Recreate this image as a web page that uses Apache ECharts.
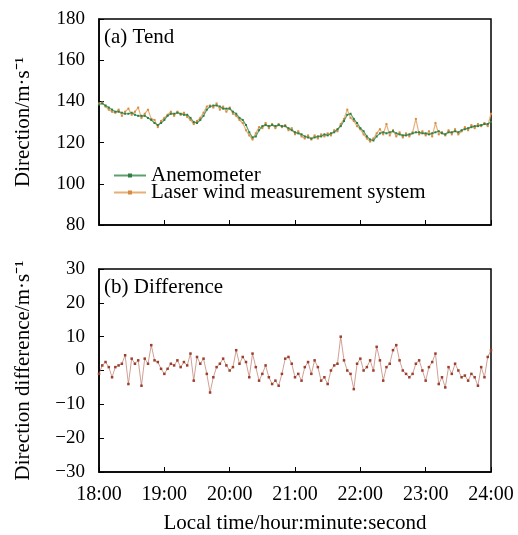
<!DOCTYPE html>
<html>
<head>
<meta charset="utf-8">
<script src="https://cdn.jsdelivr.net/npm/echarts@6/dist/echarts.min.js"></script>
<style>html,body{margin:0;padding:0;background:#fff}#c{width:518px;height:535px}</style>
</head>
<body>
<div id="c"></div>
<script>
// minutes after 18:00, step 3 minutes
const stepMinutes = 3;
const xTickLabels = ["18:00","19:00","20:00","21:00","22:00","23:00","24:00"];

const anemometer = [
 138.5,139,138,137,136,135,135,134.5,134,134,134.5,133.5,133,133,133,132,131,129.5,128.5,129.5,
 131,133,134,134,134.5,134,133.5,133.5,132,130,129.5,131,133,136,137.5,138,138,137.5,136.5,136.5,
 136.5,135,134,132,131,128.5,125,122.5,123,126,128,128.5,128,128.5,128,128.5,128,128,127,126,
 125,124.5,124,123,122.5,122,122.5,123,123,124,123.5,124.5,125,126.5,128,130.5,133.5,134,131.5,129.5,
 127,125.5,123,121.5,121,123,124.5,125,124.5,125,125.5,124.5,124,123.5,123.5,124,124.5,125,125,124.5,
 124.5,124,124.5,125,125.5,124.5,124,125,125,125.5,125,126,126.5,127,127.5,128,128,128.5,129,129,
 130
];

const laser = [
 139,139.5,137.5,136,135,134.5,136,133,135,136.5,133.5,135,137,132,134,136,131.5,131,127.5,130.5,
 132,133.5,135,133,135,133.5,134.5,132.5,131,129,130.5,132,134.5,137.5,138,137,139,136,137.5,135,
 137,134,133,131,129.5,126,123.5,121.5,124.5,127.5,127,129.5,127,129,127,129,127.5,128.5,126,127,
 124,125.5,123,122,123.5,121.5,123.5,122,124,123,124.5,123.5,126,125.5,129,131.5,136,132,130.5,128,
 126.5,124,122,120.5,122,124.5,126.5,124,129,123.5,126,123,125,122.5,124.5,123,125,131.5,124,125.5,
 123.5,125.5,123,129.5,124,125,123.5,126,124,126.5,124,125.5,127.5,126,128.5,127,129,128,129.5,128,
 134
];

const difference = [
 -1,1.5,2.5,1,-2,1,1.5,2,4.5,-4,3.5,2,3,-4.5,3.5,2,7.5,3,2.5,0.5,
 -1,0.5,2,1.5,3,1,2.5,1.5,5,-3,4,2,3.5,-1,-6.5,-2,1,2,3.5,1.5,
 0,1,6,2,4,2.5,-2,5,1,-3,-1,1.5,-2,-4,-3,-4.5,-1,3.5,4,2,
 -2,-1,-3,1,2.5,-1,3,1,-3,-2,-4,0,1.5,2,10,3,0,-1,-5.5,2,
 3.5,0,1,3,0,7,3,-3,1,2,6,7.5,3,0,-1,-2,-1,2,3,0,
 -3,1,2.5,5,-4,-2,-5,1,-1,2,0,-2,-1.5,-3,-1,-2,-4.5,1,-2,4,
 6
];

const toPairs = arr => arr.map((v, i) => [i * stepMinutes, v]);

const FONT = "Liberation Serif";
const fmtNum = v => (v < 0 ? "\u2212" + Math.abs(v) : String(v));

const chart = echarts.init(document.getElementById('c'), null, {renderer: 'canvas'});

const commonX = {
  type: 'value', min: 0, max: 360, interval: 60,
  axisLine: {show: true, onZero: false, lineStyle: {color: '#000', width: 1.5}},
  axisTick: {show: true, inside: true, length: 5, lineStyle: {color: '#000'}},
  splitLine: {show: false}
};
const commonY = {
  type: 'value',
  axisLine: {show: true, onZero: false, lineStyle: {color: '#000', width: 1.5}},
  axisTick: {show: true, inside: true, length: 5, lineStyle: {color: '#000'}},
  splitLine: {show: false},
  axisLabel: {color: '#000', fontFamily: FONT, fontSize: 19, margin: 14, formatter: fmtNum},
  nameLocation: 'middle',
  nameTextStyle: {color: '#000', fontFamily: FONT, fontSize: 21}
};

chart.setOption({
  animation: false,
  backgroundColor: '#fff',
  textStyle: {fontFamily: FONT},
  grid: [
    {left: 99, top: 19, width: 392, height: 206, show: true, borderColor: '#000', borderWidth: 1.5, backgroundColor: 'transparent'},
    {left: 99, top: 269, width: 392, height: 204, show: true, borderColor: '#000', borderWidth: 1.5, backgroundColor: 'transparent'}
  ],
  xAxis: [
    Object.assign({}, commonX, {gridIndex: 0, axisLabel: {show: false}}),
    Object.assign({}, commonX, {
      gridIndex: 1,
      axisLabel: {show: true, color: '#000', fontFamily: FONT, fontSize: 20, margin: 13,
        formatter: v => xTickLabels[Math.round(v / 60)]},
      name: 'Local time/hour:minute:second', nameLocation: 'middle', nameGap: 41,
      nameTextStyle: {color: '#000', fontFamily: FONT, fontSize: 21}
    })
  ],
  yAxis: [
    Object.assign({}, commonY, {gridIndex: 0, min: 80, max: 180, interval: 20,
      name: 'Direction/m\u00b7s\u207b\u00b9', nameGap: 65}),
    Object.assign({}, commonY, {gridIndex: 1, min: -30, max: 30, interval: 10,
      name: 'Direction difference/m\u00b7s\u207b\u00b9', nameGap: 65})
  ],
  legend: {
    orient: 'vertical', left: 108, top: 160, itemGap: -4, itemWidth: 32, itemHeight: 5,
    textStyle: {color: '#000', fontFamily: FONT, fontSize: 21},
    data: ['Anemometer', 'Laser wind measurement system']
  },
  graphic: [
    {type: 'text', left: 104, top: 27, style: {text: '(a) Tend', fill: '#000', font: '21px "Liberation Serif"'}},
    {type: 'text', left: 104, top: 277, style: {text: '(b) Difference', fill: '#000', font: '21px "Liberation Serif"'}}
  ],
  series: [
    {name: 'Laser wind measurement system', type: 'line', xAxisIndex: 0, yAxisIndex: 0,
     data: toPairs(laser), symbol: 'rect', symbolSize: 2, showSymbol: true,
     lineStyle: {color: '#e3a15e', width: 1.2, opacity: 0.85}, itemStyle: {color: '#d98a3f'}, z: 2},
    {name: 'Anemometer', type: 'line', xAxisIndex: 0, yAxisIndex: 0,
     data: toPairs(anemometer), symbol: 'rect', symbolSize: 2, showSymbol: true,
     lineStyle: {color: '#3f8f55', width: 1.2, opacity: 0.85}, itemStyle: {color: '#2f7f45'}, z: 3},
    {name: 'Difference', type: 'line', xAxisIndex: 1, yAxisIndex: 1,
     data: toPairs(difference), symbol: 'rect', symbolSize: 2.5, showSymbol: true,
     lineStyle: {color: '#b56a5a', width: 0.8, opacity: 0.8}, itemStyle: {color: '#9c3f2c'}}
  ]
});
</script>
</body>
</html>
